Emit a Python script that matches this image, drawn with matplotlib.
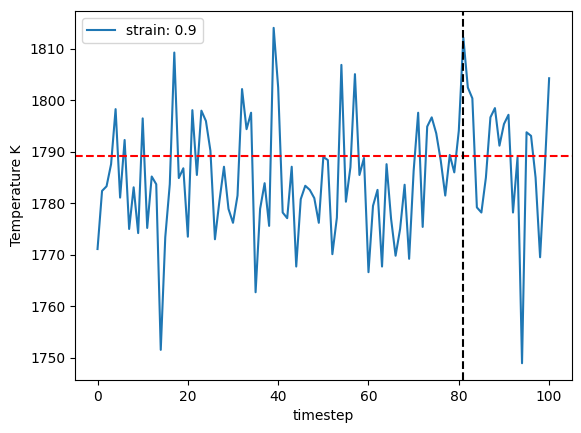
import matplotlib
matplotlib.use("Agg")
import matplotlib.pyplot as plt
import numpy as np

timestep = np.arange(101)
temperature = [
    1771.1, 1782.4, 1783.3, 1787.6, 1798.3, 1781.1, 1792.3, 1775.0, 1783.1, 1774.2,
    1796.5, 1775.2, 1785.2, 1783.7, 1751.5, 1773.4, 1783.7, 1809.3, 1784.9, 1786.8,
    1773.5, 1798.1, 1785.5, 1798.0, 1796.0, 1790.2, 1773.0, 1780.5, 1787.1, 1778.9,
    1776.2, 1781.5, 1802.2, 1794.4, 1797.6, 1762.7, 1778.9, 1783.9, 1775.6, 1814.1,
    1802.5, 1778.2, 1777.1, 1787.1, 1767.7, 1780.8, 1783.4, 1782.6, 1781.0, 1776.2,
    1789.0, 1788.4, 1770.1, 1777.2, 1806.9, 1780.3, 1787.0, 1805.1, 1785.5, 1788.8,
    1766.6, 1779.5, 1782.6, 1767.7, 1787.6, 1777.0, 1769.8, 1775.0, 1783.6, 1769.2,
    1786.3, 1797.6, 1775.4, 1794.9, 1796.7, 1793.6, 1788.3, 1781.5, 1789.4, 1786.0,
    1794.1, 1812.2, 1802.5, 1800.4, 1779.2, 1778.2, 1785.0, 1796.7, 1798.5, 1791.2,
    1795.4, 1797.2, 1778.2, 1788.9, 1748.9, 1793.8, 1793.1, 1785.0, 1769.5, 1786.0,
    1804.3,
]
mean_temp = 1789.2
marker_step = 81

fig = plt.figure(figsize=(5.81, 4.33), dpi=100)
ax = fig.add_axes([0.129, 0.1224, 0.855, 0.852])
ax.plot(timestep, temperature, label="strain: 0.9")
ax.axhline(mean_temp, color="red", linestyle="--")
ax.axvline(marker_step, color="black", linestyle="--")
ax.set_xlabel("timestep")
ax.set_ylabel("Temperature K")
ax.legend(loc="upper left")
fig.savefig("out.png", dpi=100)
